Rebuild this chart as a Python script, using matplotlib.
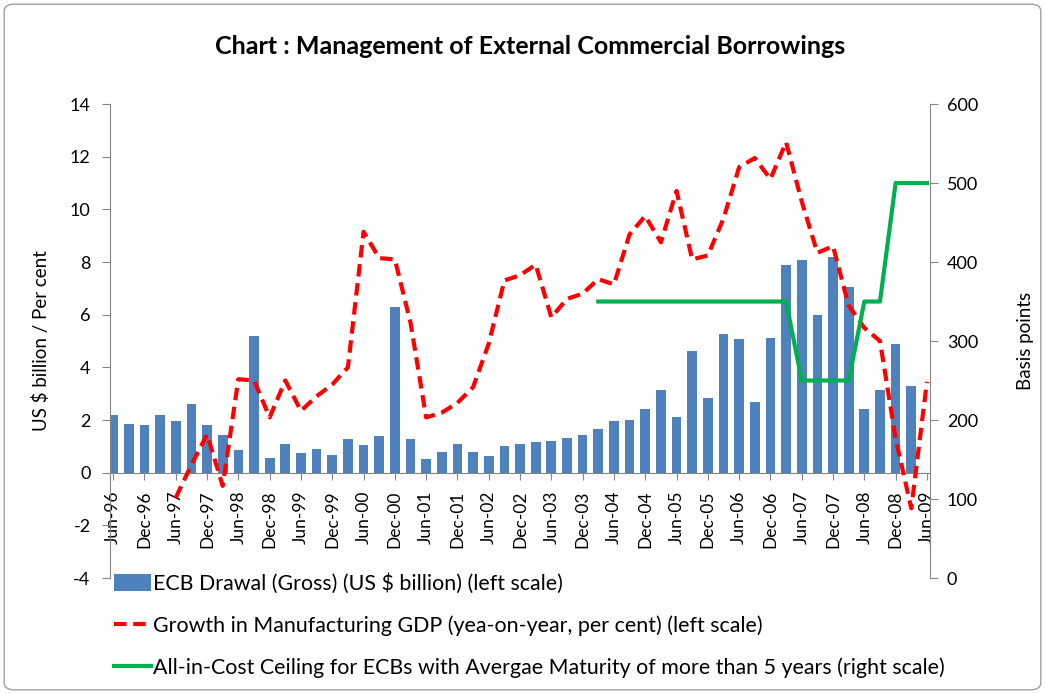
import numpy as np
import matplotlib
matplotlib.use('Agg')
import matplotlib.pyplot as plt
from matplotlib.patches import FancyBboxPatch, Patch
from matplotlib.lines import Line2D

plt.rcParams['font.family'] = ['Lato', 'DejaVu Sans']
plt.rcParams['axes.unicode_minus'] = False

quarters = ['Jun-96', 'Sep-96', 'Dec-96', 'Mar-97', 'Jun-97', 'Sep-97', 'Dec-97', 'Mar-98',
            'Jun-98', 'Sep-98', 'Dec-98', 'Mar-99', 'Jun-99', 'Sep-99', 'Dec-99', 'Mar-00',
            'Jun-00', 'Sep-00', 'Dec-00', 'Mar-01', 'Jun-01', 'Sep-01', 'Dec-01', 'Mar-02',
            'Jun-02', 'Sep-02', 'Dec-02', 'Mar-03', 'Jun-03', 'Sep-03', 'Dec-03', 'Mar-04',
            'Jun-04', 'Sep-04', 'Dec-04', 'Mar-05', 'Jun-05', 'Sep-05', 'Dec-05', 'Mar-06',
            'Jun-06', 'Sep-06', 'Dec-06', 'Mar-07', 'Jun-07', 'Sep-07', 'Dec-07', 'Mar-08',
            'Jun-08', 'Sep-08', 'Dec-08', 'Mar-09', 'Jun-09']

# ECB drawal, US $ billion (no bar for Jun-09)
ecb = [2.2, 1.85, 1.8, 2.2, 1.95, 2.6, 1.8, 1.45, 0.85, 5.2,
       0.55, 1.1, 0.73, 0.9, 0.68, 1.28, 1.06, 1.4, 6.3, 1.28,
       0.52, 0.77, 1.1, 0.77, 0.65, 1.03, 1.1, 1.15, 1.22, 1.32,
       1.45, 1.66, 1.98, 2.02, 2.4, 3.15, 2.1, 4.63, 2.82, 5.25,
       5.08, 2.68, 5.12, 7.9, 8.06, 5.97, 8.19, 7.05, 2.42, 3.14,
       4.9, 3.31, np.nan]

# growth in manufacturing GDP, per cent
mfg = [np.nan, np.nan, np.nan, np.nan, -0.95, 0.3, 1.45, -0.5, 3.55, 3.5,
       2.1, 3.5, 2.35, 2.9, 3.35, 4.0, 9.15, 8.15, 8.1, 5.7,
       2.1, 2.28, 2.65, 3.25, 4.9, 7.3, 7.5, 7.9, 5.9, 6.6,
       6.8, 7.35, 7.15, 9.05, 9.75, 8.75, 10.7, 8.1, 8.25, 9.65,
       11.6, 11.95, 11.15, 12.55, 10.3, 8.35, 8.6, 6.35, 5.5, 5.0,
       1.3, -1.35, 3.45]

# all-in-cost ceiling, basis points (right scale)
ceiling = [np.nan] * 31 + [350] * 13 + [250] * 4 + [350] * 2 + [500] * 3

x = np.arange(len(quarters))

fig = plt.figure(figsize=(10.45, 6.94), dpi=100)
ax = fig.add_axes([0.1053, 0.1671, 0.7847, 0.683])
ax2 = ax.twinx()

grey = '#868686'
red_dash = (0, (3, 1.6))
ax.bar(x, ecb, width=0.62, color='#4F81BD', zorder=2)
ax.plot(x, mfg, color='#FF0000', lw=3, ls=red_dash, zorder=4)
ax2.plot(x, ceiling, color='#00B050', lw=3, zorder=3)

ax.set_xlim(-0.2, 52.2)
ax.set_ylim(-4, 14)
ax.set_yticks(np.arange(-4, 15, 2))
ax2.set_ylim(0, 600)
ax2.set_yticks(np.arange(0, 601, 100))

ax.set_xticks(x[::2])
ax.set_xticklabels(quarters[::2])
ax.spines['bottom'].set_position(('data', 0))
ax.spines['top'].set_visible(False)
ax2.spines['top'].set_visible(False)
ax2.spines['bottom'].set_visible(False)
ax.spines['right'].set_visible(False)
for sp in ['left', 'bottom']:
    ax.spines[sp].set_color(grey)
ax2.spines['right'].set_color(grey)
ax2.spines['left'].set_visible(False)

ax.tick_params(axis='y', labelsize=13, colors=grey, labelcolor='black', length=6, pad=8)
ax.tick_params(axis='x', colors=grey, labelcolor='black', length=5, pad=8,
               labelrotation=90, labelsize=12.5)
ax2.tick_params(axis='y', labelsize=13, colors=grey, labelcolor='black', length=6, pad=6)

ax.set_ylabel('US $ billion / Per cent', fontsize=13.5, labelpad=14)
ax2.set_ylabel('Basis points', fontsize=13.5, labelpad=28)

fig.suptitle('Chart : Management of External Commercial Borrowings',
             fontsize=18, fontweight='bold', x=0.507, y=0.95)

handles = [Patch(facecolor='#4F81BD'),
           Line2D([], [], color='#FF0000', lw=3, ls=red_dash),
           Line2D([], [], color='#00B050', lw=3)]
labels = ['ECB Drawal (Gross) (US $ billion) (left scale)',
          'Growth in Manufacturing GDP (yea-on-year, per cent) (left scale)',
          'All-in-Cost Ceiling for ECBs with Avergae Maturity of more than 5 years (right scale)']
fig.legend(handles, labels, loc='upper left', bbox_to_anchor=(0.1005, 0.186),
           frameon=False, fontsize=15.4, handlelength=1.75, handleheight=0.8,
           handletextpad=0.1, labelspacing=1.0, borderaxespad=0)

fig.patches.append(FancyBboxPatch((0.004, 0.006), 0.992, 0.988,
                                  boxstyle='round,pad=0,rounding_size=0.01',
                                  transform=fig.transFigure, fill=False,
                                  edgecolor='#A0A0A0', lw=1))

plt.savefig('out.png', dpi=100)
